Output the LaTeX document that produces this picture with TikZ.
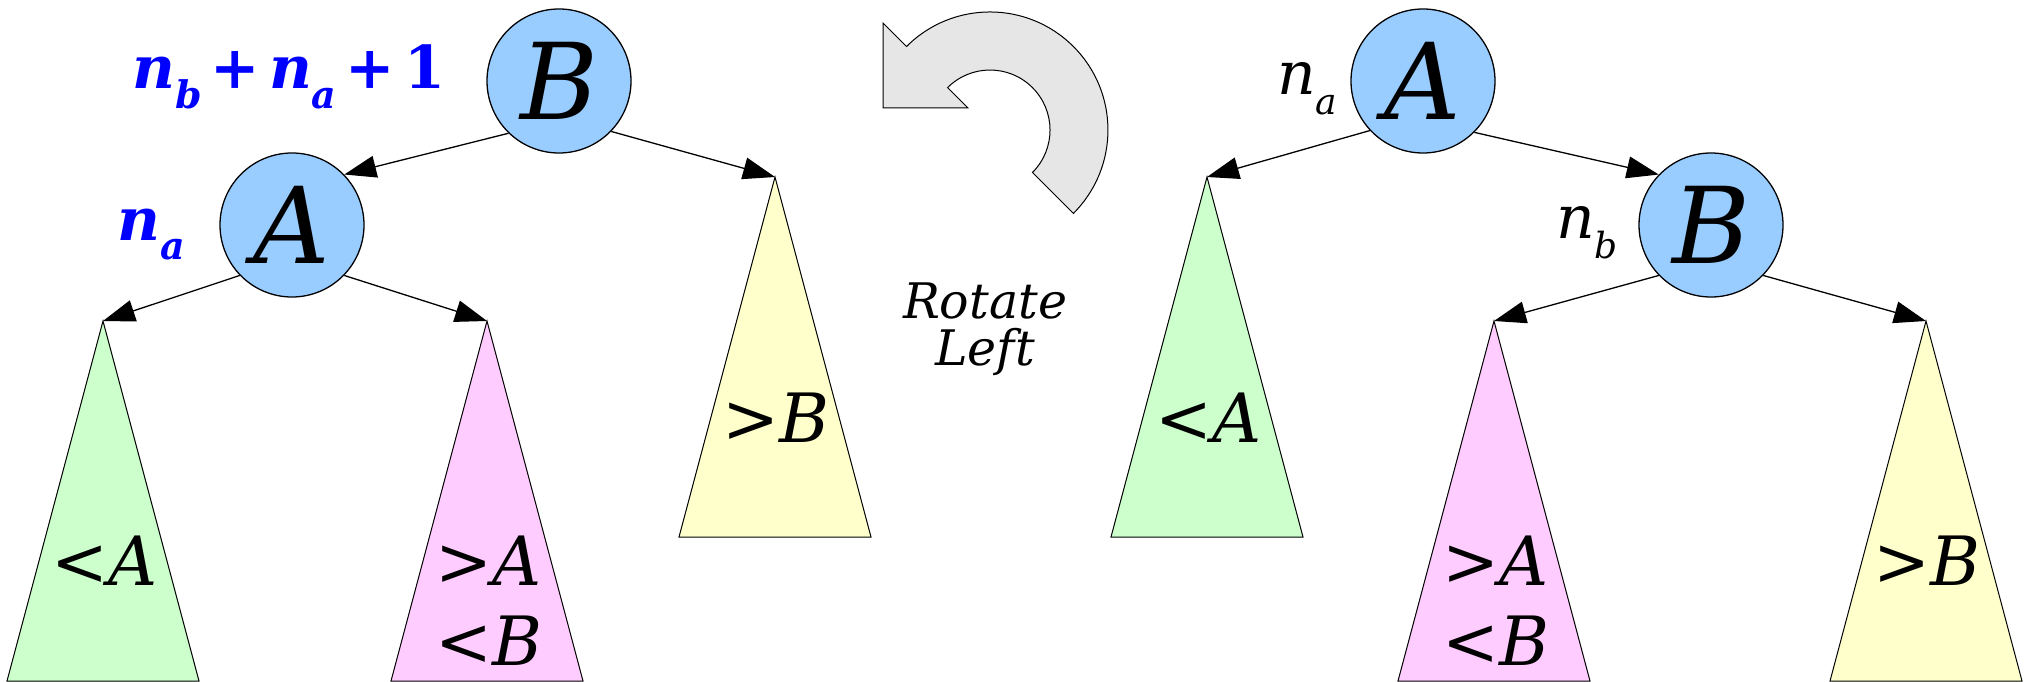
\documentclass[tikz,border=0pt]{standalone}
\usepackage{fontspec}
\setmainfont{DejaVu Serif}
\usetikzlibrary{arrows.meta}
\definecolor{nodeblue}{HTML}{99CCFF}
\definecolor{trigreen}{HTML}{CCFFCC}
\definecolor{tripink}{HTML}{FFCCFF}
\definecolor{triyellow}{HTML}{FFFFCC}
\definecolor{arrowgray}{HTML}{E6E6E6}
\definecolor{lblblue}{HTML}{0000FF}
\newcommand{\fsz}[1]{\fontsize{#1}{#1}\selectfont}
\newcommand{\bluesub}[1]{\raisebox{-20pt}{\fsz{38}#1}}
\newcommand{\blacksub}[1]{\raisebox{-20pt}{\fsz{36}#1}}
\newcommand{\gap}{\hspace{9pt}}
\begin{document}
\begin{tikzpicture}[x=1pt,y=-1pt,
  tnode/.style={circle, draw=black, line width=1.3pt, fill=nodeblue, minimum size=144pt, inner sep=0pt, font=\itshape\fsz{106}},
  edge/.style={draw=black, line width=1.3pt, -{Triangle[length=32pt,width=22pt]}},
  tri/.style={draw=black, line width=1pt},
  tlbl/.style={anchor=base, inner sep=0pt, font=\fsz{68}},
  bluelbl/.style={anchor=base west, inner sep=0pt, text=lblblue, font=\bfseries\fsz{59}},
  cntlbl/.style={anchor=base west, inner sep=0pt, font=\itshape\fsz{60}},
  rotlbl/.style={anchor=base, inner sep=0pt, font=\itshape\fsz{49}},
  rotarrow/.style={draw=black, line width=1pt, fill=arrowgray}]
\useasboundingbox (0,0) rectangle (2030,682);
\fill[white] (0,0) rectangle (2030,682);

% ---------- left tree ----------
\coordinate (gL) at (103,321);
\coordinate (pL) at (487,321);
\coordinate (yL) at (775,177);
\draw[tri, fill=trigreen] (gL) -- ++(96,360) -- ++(-192,0) -- cycle;
\draw[tri, fill=tripink] (pL) -- ++(96,360) -- ++(-192,0) -- cycle;
\draw[tri, fill=triyellow] (yL) -- ++(96,360) -- ++(-192,0) -- cycle;
\node[tlbl] (lgL) at (105,585) {<\textit{A}};
\node[tlbl] (lpL1) at (489,585) {>\textit{A}};
\node[tlbl] (lpL2) at (489,665) {<\textit{B}};
\node[tlbl] (lyL) at (776,442) {>\textit{B}};

\node[tnode] (BL) at (559,81) {B};
\node[tnode] (AL) at (292,225) {A};
\node[bluelbl] (sum) at (132,89) {{\itshape n\bluesub{b}}\gap+\gap{\itshape n\bluesub{a}}\gap+\gap1};
\node[bluelbl] (naL) at (117,240) {{\itshape n\bluesub{a}}};

\draw[edge] (BL.226) -- (AL.44);
\draw[edge] (BL.-44) -- (yL);
\draw[edge] (AL.224) -- (gL);
\draw[edge] (AL.-44) -- (pL);

% ---------- rotation arrow ----------
\draw[rotarrow] (906.6,46.6) -- (883,23) -- (883,108) -- (968,108) -- (947.6,87.6)
  arc[start angle=-135, end angle=45, radius=60] -- (1073.4,213.4)
  arc[start angle=45, end angle=-135, radius=118] -- cycle;
\node[rotlbl] (rot1) at (985,318) {Rotate};
\node[rotlbl] (rot2) at (985,365) {Left};

% ---------- right tree ----------
\coordinate (gR) at (1207,177);
\coordinate (pR) at (1494,321);
\coordinate (yR) at (1926,321);
\draw[tri, fill=trigreen] (gR) -- ++(96,360) -- ++(-192,0) -- cycle;
\draw[tri, fill=tripink] (pR) -- ++(96,360) -- ++(-192,0) -- cycle;
\draw[tri, fill=triyellow] (yR) -- ++(96,360) -- ++(-192,0) -- cycle;
\node[tlbl] (lgR) at (1209,442) {<\textit{A}};
\node[tlbl] (lpR1) at (1496,585) {>\textit{A}};
\node[tlbl] (lpR2) at (1496,665) {<\textit{B}};
\node[tlbl] (lyR) at (1927,585) {>\textit{B}};

\node[tnode] (AR) at (1423,81) {A};
\node[tnode] (BR) at (1711,225) {B};
\node[cntlbl] (naR) at (1277,95) {n\blacksub{a}};
\node[cntlbl] (nbR) at (1556,238) {n\blacksub{b}};

\draw[edge] (AR.223) -- (gR);
\draw[edge] (AR.-45) -- (BR.136);
\draw[edge] (BR.224) -- (pR);
\draw[edge] (BR.-44) -- (yR);
\end{tikzpicture}
\end{document}
